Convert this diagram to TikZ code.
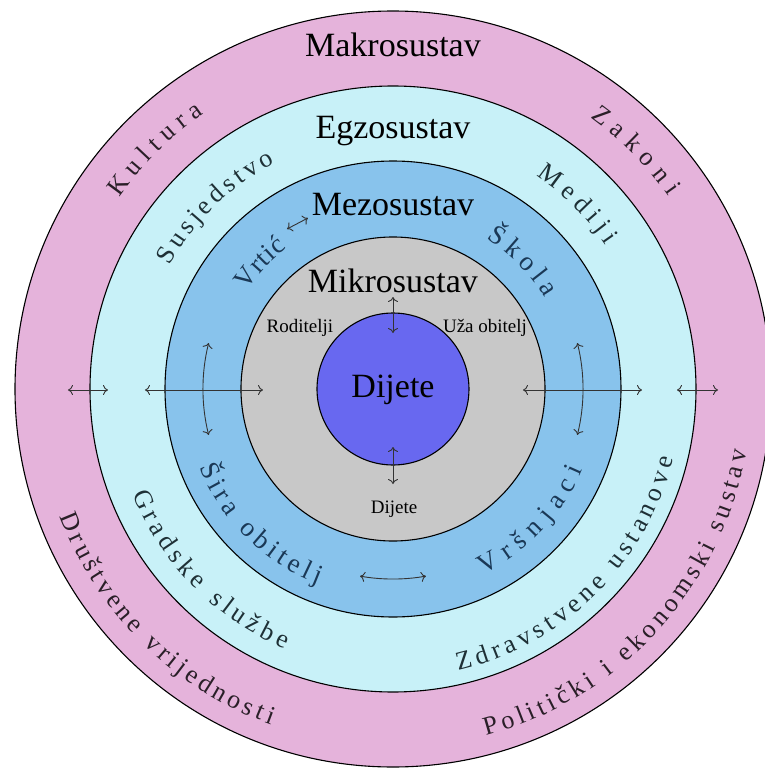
\documentclass[tikz,border=0pt]{standalone}
\usepackage{fontspec}
\setmainfont{Liberation Serif}
\newfontfamily\diagfont{Liberation Serif}
\usetikzlibrary{arrows.meta,decorations.text}

\definecolor{makro}{HTML}{E5B3DB}
\definecolor{egzo}{HTML}{C8F1F8}
\definecolor{mezo}{HTML}{88C3EC}
\definecolor{mikro}{HTML}{C8C8C8}
\definecolor{dijete}{HTML}{6868F0}
\definecolor{inkouter}{HTML}{2A1F28}
\definecolor{inkegzo}{HTML}{1E3036}
\definecolor{inkmezo}{HTML}{1A3856}

\newcommand\ringfont{\diagfont\fontsize{26}{30}\selectfont}
\newcommand\mezofont{\diagfont\fontsize{27}{31}\selectfont}

\begin{document}
\begin{tikzpicture}[x=1pt,y=1pt,
    ring/.style={draw=black, line width=1.1pt},
    bigtext/.style={font=\diagfont\fontsize{34}{38}\selectfont, anchor=base, inner sep=0pt},
    smalltext/.style={font=\diagfont\fontsize{19}{22}\selectfont, anchor=base, inner sep=0pt},
    arr/.style={{To[length=5pt,width=10pt]}-{To[length=5pt,width=10pt]}, line width=0.9pt, draw=black!80},
    ringlabel/.style n args={2}{decorate, decoration={text along path, text align=fit to path, text color=#1, text={#2}}}]
    \useasboundingbox (-393,-380) rectangle (371,389);

    % the five circles
    \foreach \r/\c in {378/makro,303/egzo,228/mezo,152/mikro,76/dijete}
    {
        \filldraw[ring, fill=\c] (0,0) circle[radius=\r pt];
    }

    % titles
    \node[bigtext] (makrotitle) at (0,332) {Makrosustav};
    \node[bigtext] (egzotitle) at (0,251) {Egzosustav};
    \node[bigtext] (mezotitle) at (0,174) {Mezosustav};
    \node[bigtext] (mikrotitle) at (0,97) {Mikrosustav};
    \node[bigtext] (dijetetitle) at (0,-8) {Dijete};
    \node[smalltext] (roditelji) at (-93,57) {Roditelji};
    \node[smalltext] (uza) at (92,57) {Uža obitelj};
    \node[smalltext] (dijetesmall) at (1,-124) {Dijete};

    % makrosustav
    \path[ringlabel={inkouter}{|\ringfont|Kultura}] (145:334pt) arc[start angle=145, end angle=124.5, radius=334pt];
    \path[ringlabel={inkouter}{|\ringfont|Zakoni}] (54:336pt) arc[start angle=54, end angle=35, radius=336pt];
    \path[ringlabel={inkouter}{|\ringfont|Društvene vrijednosti}] (201:357pt) arc[start angle=201, end angle=250, radius=357pt];
    \path[ringlabel={inkouter}{|\ringfont|Politički i ekonomski sustav}] (285:359pt) arc[start angle=285, end angle=350, radius=359pt];

    % egzosustav
    \path[ringlabel={inkegzo}{|\ringfont|Susjedstvo}] (151:255pt) arc[start angle=151, end angle=117.5, radius=255pt];
    \path[ringlabel={inkegzo}{|\ringfont|Mediji}] (56:257pt) arc[start angle=56, end angle=34, radius=257pt];
    \path[ringlabel={inkegzo}{|\ringfont|Gradske službe}] (202:281pt) arc[start angle=202, end angle=247.5, radius=281pt];
    \path[ringlabel={inkegzo}{|\ringfont|Zdravstvene ustanove}] (283:289pt) arc[start angle=283, end angle=346, radius=289pt];

    % mezosustav
    \path[ringlabel={inkmezo}{|\mezofont|Vrtić}] (146:176pt) arc[start angle=146, end angle=127, radius=176pt];
    \path[ringlabel={inkmezo}{|\mezofont|Škola}] (58:177pt) arc[start angle=58, end angle=31, radius=177pt];
    \path[ringlabel={inkmezo}{|\mezofont|Šira obitelj}] (202:209pt) arc[start angle=202, end angle=249, radius=209pt];
    \path[ringlabel={inkmezo}{|\mezofont|Vršnjaci}] (296:206pt) arc[start angle=296, end angle=337, radius=206pt];

    % arrows
    \draw[arr] (-325,-1) -- (-285,-1);
    \draw[arr] (284,-1) -- (325,-1);
    \draw[arr] (-248,-1) -- (-130,-1);
    \draw[arr] (130,-1) -- (249,-1);
    \draw[arr] (0,92) -- (0,56);
    \draw[arr] (0,-58) -- (0,-95);
    \draw[arr] (-106,160) -- (-85,171);
    \draw[arr] (166:190pt) arc[start angle=166, end angle=194, radius=190pt];
    \draw[arr] (-14:190pt) arc[start angle=-14, end angle=14, radius=190pt];
    \draw[arr] (260:190pt) arc[start angle=260, end angle=280, radius=190pt];
\end{tikzpicture}
\end{document}
